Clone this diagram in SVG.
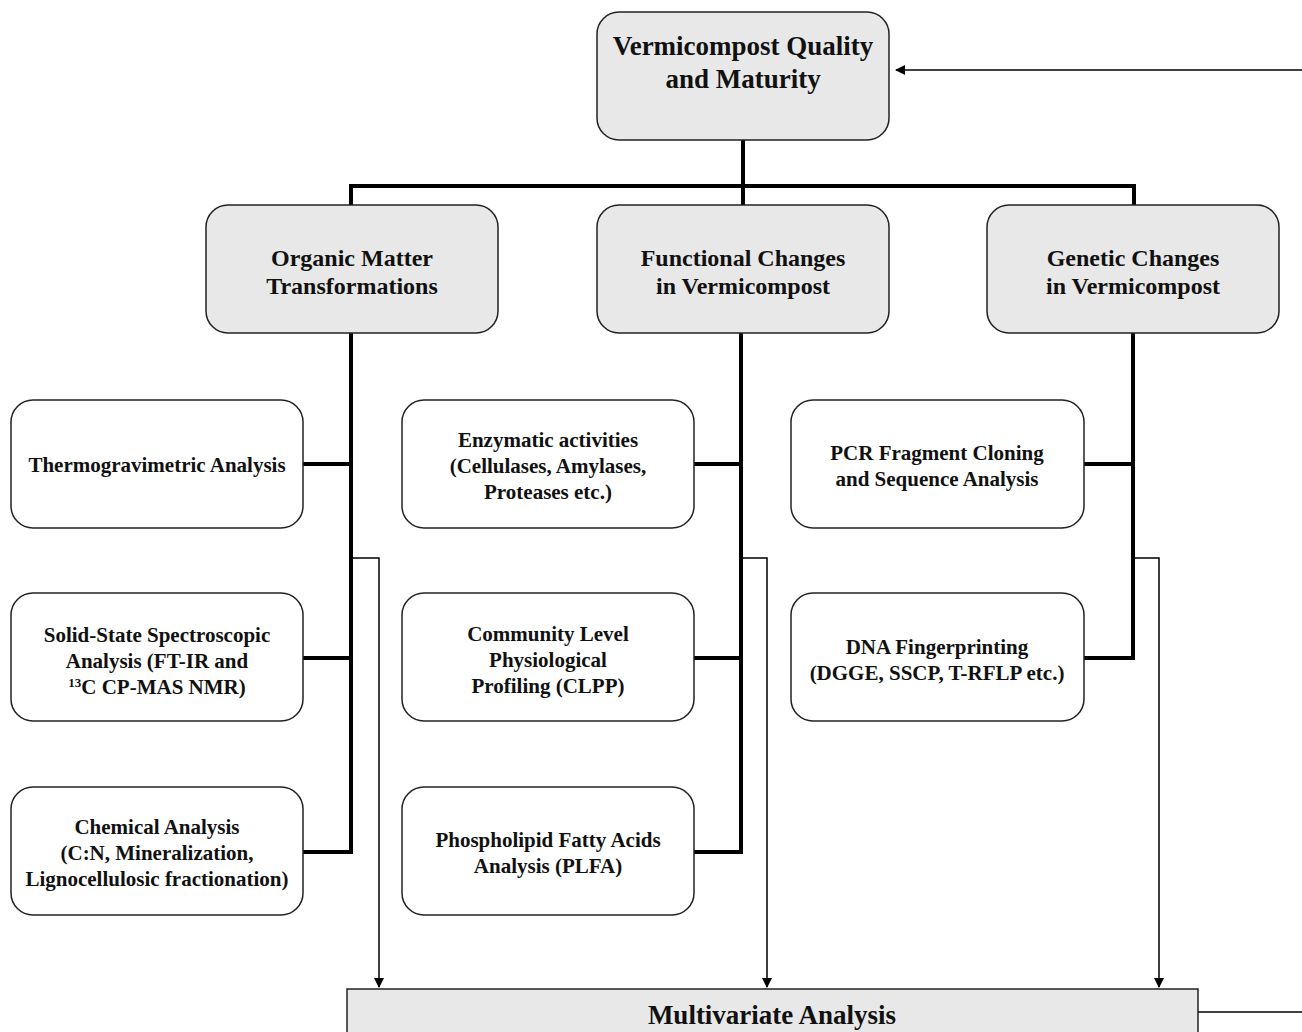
<svg xmlns="http://www.w3.org/2000/svg" width="1302" height="1032" viewBox="0 0 1302 1032">
<defs>
<marker id="ah" markerWidth="10" markerHeight="10" refX="9" refY="5" orient="auto" markerUnits="userSpaceOnUse"><path d="M0,0 L10,5 L0,10 z" fill="#000"/></marker>
<style>
.g{fill:#e8e8e8;stroke:#222;stroke-width:1.5}
.w{fill:#fff;stroke:#222;stroke-width:1.5}
.t{font-family:"Liberation Serif","Times New Roman",serif;font-weight:bold;fill:#111;text-anchor:middle}
.big{font-size:27px}
.mid{font-size:24px}
.sm{font-size:21px}
.thick{stroke:#000;stroke-width:4;fill:none}
.thin{stroke:#000;stroke-width:1.5;fill:none}
</style>
</defs>
<rect width="1302" height="1032" fill="#fff"/>
<g id="connectors">
<path class="thick" d="M743,140 V205 M351,205 V186 H1134 V205"/>
<path class="thick" d="M351,333 V852 H303 M351,464 H303 M351,658 H303"/>
<path class="thick" d="M741,333 V852 H694 M741,464 H694 M741,658 H694"/>
<path class="thick" d="M1133,333 V658 H1084 M1133,464 H1084"/>
<path class="thin" d="M352,558 H379 V987" marker-end="url(#ah)"/>
<path class="thin" d="M742,558 H767 V987" marker-end="url(#ah)"/>
<path class="thin" d="M1134,558 H1159 V987" marker-end="url(#ah)"/>
<path class="thin" d="M1302,70 H896" marker-end="url(#ah)"/>
<path class="thin" d="M1198,1012 H1302"/>
</g>
<g id="n-top"><rect class="g" x="597" y="12" width="292" height="128" rx="22"/>
<text class="t big" x="743" y="55">Vermicompost Quality</text><text class="t big" x="743" y="88">and Maturity</text></g>
<g id="n-organic"><rect class="g" x="206" y="205" width="292" height="128" rx="22"/>
<text class="t mid" x="352" y="266">Organic Matter</text><text class="t mid" x="352" y="294">Transformations</text></g>
<g id="n-functional"><rect class="g" x="597" y="205" width="292" height="128" rx="22"/>
<text class="t mid" x="743" y="266">Functional Changes</text><text class="t mid" x="743" y="294">in Vermicompost</text></g>
<g id="n-genetic"><rect class="g" x="987" y="205" width="292" height="128" rx="22"/>
<text class="t mid" x="1133" y="266">Genetic Changes</text><text class="t mid" x="1133" y="294">in Vermicompost</text></g>
<g id="n-thermo"><rect class="w" x="11" y="400" width="292" height="128" rx="22"/>
<text class="t sm" x="157" y="472">Thermogravimetric Analysis</text></g>
<g id="n-solid"><rect class="w" x="11" y="593" width="292" height="128" rx="22"/>
<text class="t sm" x="157" y="642">Solid-State Spectroscopic</text><text class="t sm" x="157" y="668">Analysis (FT-IR and</text><text class="t sm" x="157" y="694"><tspan font-size="13" dy="-7">13</tspan><tspan dy="7">C CP-MAS NMR)</tspan></text></g>
<g id="n-chem"><rect class="w" x="11" y="787" width="292" height="128" rx="22"/>
<text class="t sm" x="157" y="834">Chemical Analysis</text><text class="t sm" x="157" y="860">(C:N, Mineralization,</text><text class="t sm" x="157" y="886">Lignocellulosic fractionation)</text></g>
<g id="n-enzyme"><rect class="w" x="402" y="400" width="292" height="128" rx="22"/>
<text class="t sm" x="548" y="447">Enzymatic activities</text><text class="t sm" x="548" y="473">(Cellulases, Amylases,</text><text class="t sm" x="548" y="499">Proteases etc.)</text></g>
<g id="n-clpp"><rect class="w" x="402" y="593" width="292" height="128" rx="22"/>
<text class="t sm" x="548" y="641">Community Level</text><text class="t sm" x="548" y="667">Physiological</text><text class="t sm" x="548" y="693">Profiling (CLPP)</text></g>
<g id="n-plfa"><rect class="w" x="402" y="787" width="292" height="128" rx="22"/>
<text class="t sm" x="548" y="847">Phospholipid Fatty Acids</text><text class="t sm" x="548" y="873">Analysis (PLFA)</text></g>
<g id="n-pcr"><rect class="w" x="791" y="400" width="293" height="128" rx="22"/>
<text class="t sm" x="937" y="460">PCR Fragment Cloning</text><text class="t sm" x="937" y="486">and Sequence Analysis</text></g>
<g id="n-dna"><rect class="w" x="791" y="593" width="293" height="128" rx="22"/>
<text class="t sm" x="937" y="654">DNA Fingerprinting</text><text class="t sm" x="937" y="680">(DGGE, SSCP, T-RFLP etc.)</text></g>
<g id="n-multi"><rect class="g" x="347" y="989" width="851" height="60"/>
<text class="t big" x="772" y="1024">Multivariate Analysis</text></g>
</svg>
